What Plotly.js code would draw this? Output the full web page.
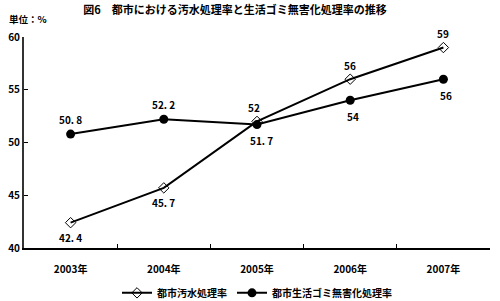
<!DOCTYPE html>
<html><head><meta charset="utf-8">
<script src="https://cdn.plot.ly/plotly-3.0.1.min.js"></script>
<style>body{margin:0;background:#fff}#c{width:500px;height:301px}</style>
</head><body><div id="c"></div>
<script>
const years = ['2003年','2004年','2005年','2006年','2007年'];
const sewage = [42.4, 45.7, 52, 56, 59];
const garbage = [50.8, 52.2, 51.7, 54, 56];
const sewageLabels = ['42. 4','45. 7','52','56','59'];
const garbageLabels = ['50. 8','52. 2','51. 7','54','56'];
const sewageShift = [-15, -15, 14, 14, 14];
const garbageShift = [15, 15, -16, -16, -16];
const yTicks = [40,45,50,55,60];

const F = '"Noto Sans CJK JP", "DejaVu Sans", sans-serif';
const data = [
 {x: years, y: sewage, name: '都市汚水処理率', type:'scatter', mode:'lines+markers',
  line:{color:'#000', width:2}, marker:{symbol:'diamond-open', size:8, color:'#000', line:{width:1}}, cliponaxis:false},
 {x: years, y: garbage, name: '都市生活ゴミ無害化処理率', type:'scatter', mode:'lines+markers',
  line:{color:'#000', width:2}, marker:{symbol:'circle', size:9, color:'#000'}, cliponaxis:false}
];
const ann = [];
years.forEach((yr,i)=>{
  ann.push({x:yr, y:sewage[i], xref:'x', yref:'y', text:'<b>'+sewageLabels[i]+'</b>', showarrow:false, yshift:sewageShift[i], xshift:(i===2?-3:0), font:{size:10}});
  ann.push({x:yr, y:garbage[i], xref:'x', yref:'y', text:'<b>'+garbageLabels[i]+'</b>', showarrow:false, yshift:garbageShift[i], xshift:(i===2?4:(i>=3?3:0)), font:{size:10}});
});
ann.push({text:'<b>単位：%</b>', xref:'paper', yref:'paper', x:-0.035, y:1.085, xanchor:'left', yanchor:'middle', showarrow:false, font:{size:9.5}, borderpad:0});
const layout = {
 width:500, height:301, margin:{l:24, r:10, t:37, b:53, autoexpand:false},
 paper_bgcolor:'#fff', plot_bgcolor:'#fff', showlegend:true,
 font:{family:F, color:'#000', size:10},
 title:{text:'<b>図6　都市における汚水処理率と生活ゴミ無害化処理率の推移</b>', x:0.47, xanchor:'center', yref:'container', y:0.965, yanchor:'middle', font:{size:11, family:F}},
 xaxis:{type:'category', range:[-0.5,4.5], showgrid:false, showline:true, linecolor:'#000', linewidth:2, automargin:false,
  ticks:'inside', ticklen:4, tickcolor:'#000', tickson:'boundaries', tickfont:{size:10, weight:'bold'}, ticklabelstandoff:11, zeroline:false, fixedrange:true},
 yaxis:{range:[40,60], tickvals:yTicks, showgrid:false, showline:true, linecolor:'#333', linewidth:2, automargin:false,
  ticks:'inside', ticklen:4, tickcolor:'#000', tickfont:{size:10, weight:'bold'}, zeroline:false, fixedrange:true},
 legend:{orientation:'h', x:0.5, xanchor:'center', yref:'container', y:0.027, yanchor:'middle', font:{size:10, weight:'bold'}, traceorder:'normal'},
 annotations: ann
};
Plotly.newPlot('c', data, layout, {displayModeBar:false, staticPlot:true});
</script></body></html>
